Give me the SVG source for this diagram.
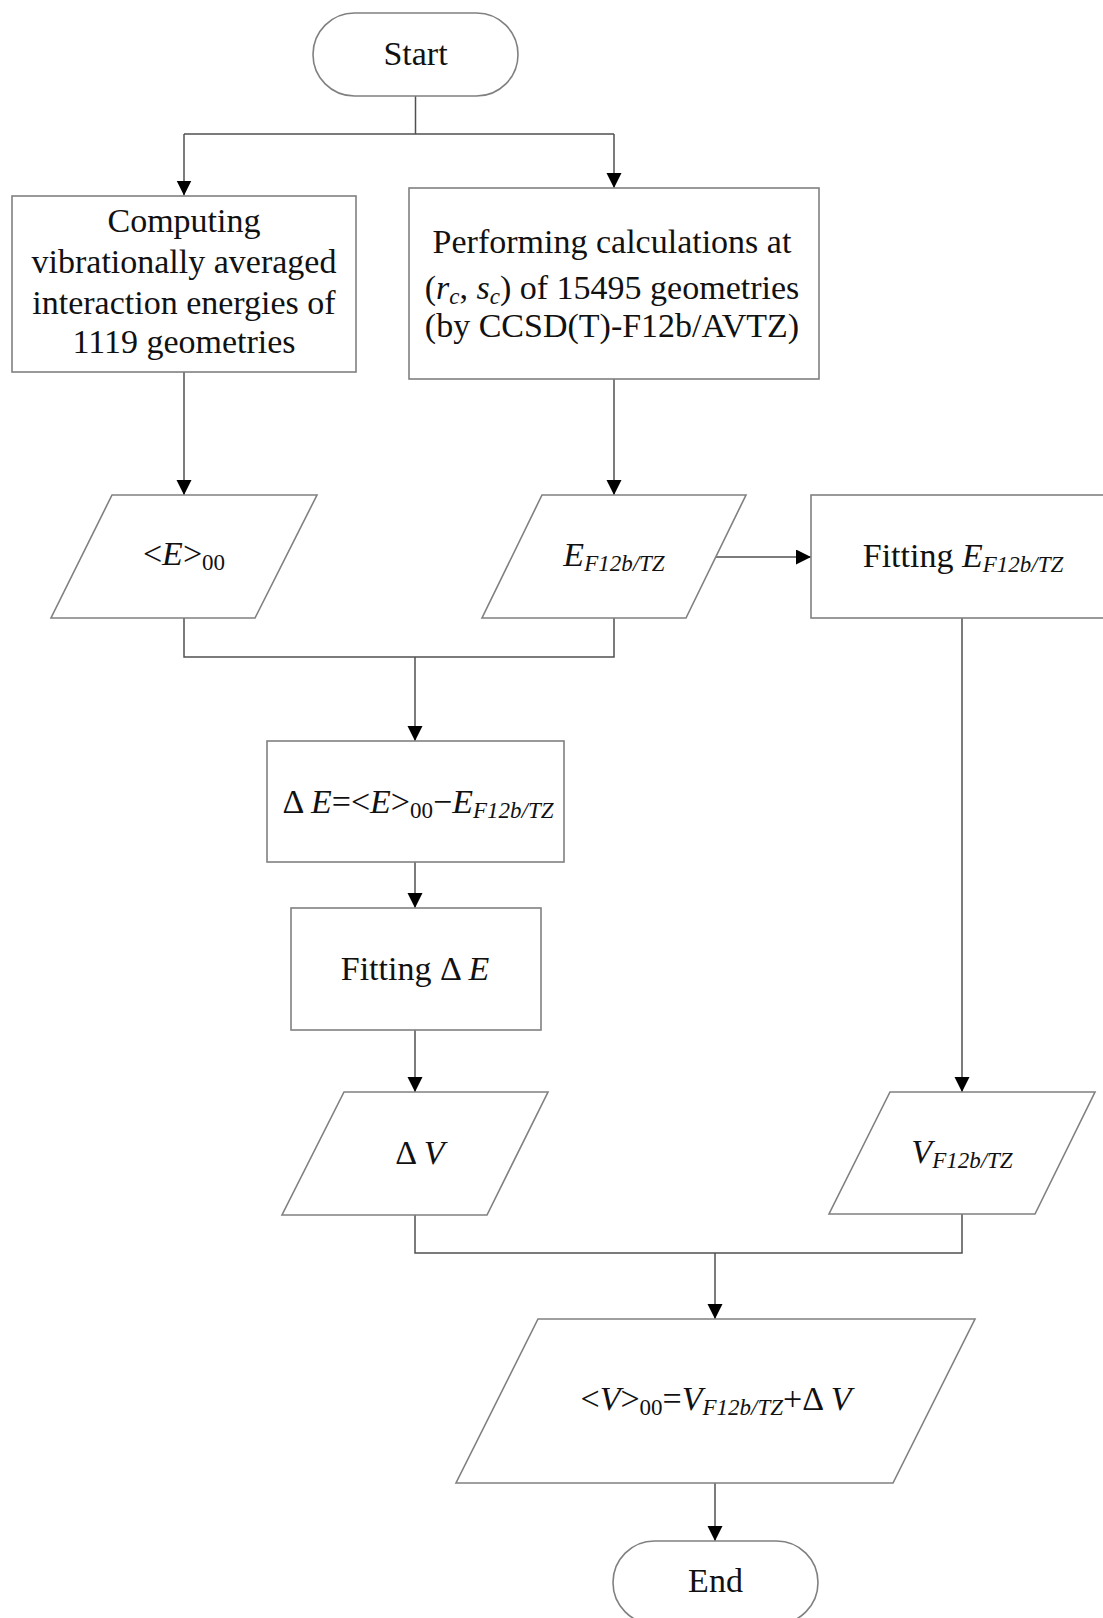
<svg xmlns="http://www.w3.org/2000/svg" width="1103" height="1618" viewBox="0 0 1103 1618">
<style>
.shape{fill:#fff;stroke:#808080;stroke-width:1.6}
.conn{fill:none;stroke:#505050;stroke-width:1.5}
.t{font-family:"Liberation Serif","Times New Roman",serif;font-size:34px;fill:#111;text-anchor:middle}
.i{font-style:italic}
.s{font-size:23px}
</style>
<defs>
<marker id="ah" markerUnits="userSpaceOnUse" markerWidth="16" markerHeight="16" refX="15" refY="7.5" orient="auto">
<path d="M0,0 L15,7.5 L0,15 Z" fill="#000"/>
</marker>
</defs>
<rect width="1103" height="1618" fill="#fff"/>

<g id="connectors">
<path class="conn" d="M415.5 96 V134 M184 134 H614"/>
<path class="conn" d="M184 134 V195.5" marker-end="url(#ah)"/>
<path class="conn" d="M614 134 V188" marker-end="url(#ah)"/>
<path class="conn" d="M184 372 V495" marker-end="url(#ah)"/>
<path class="conn" d="M614 379 V495" marker-end="url(#ah)"/>
<path class="conn" d="M716 557 H811" marker-end="url(#ah)"/>
<path class="conn" d="M184 618 V657 H614 V618"/>
<path class="conn" d="M415 657 V741" marker-end="url(#ah)"/>
<path class="conn" d="M415 862 V908" marker-end="url(#ah)"/>
<path class="conn" d="M415 1030 V1092" marker-end="url(#ah)"/>
<path class="conn" d="M962 618 V1092" marker-end="url(#ah)"/>
<path class="conn" d="M415 1215 V1253 H962 V1214"/>
<path class="conn" d="M715 1253 V1319" marker-end="url(#ah)"/>
<path class="conn" d="M715 1483 V1541" marker-end="url(#ah)"/>
</g>

<g id="start">
<rect class="shape" x="313" y="13" width="205" height="83" rx="41.5"/>
<text class="t" x="415.5" y="65">Start</text>
</g>

<g id="compute">
<rect class="shape" x="12" y="196" width="344" height="176"/>
<text class="t" x="184" y="232">Computing</text>
<text class="t" x="184" y="273">vibrationally averaged</text>
<text class="t" x="184" y="314">interaction energies of</text>
<text class="t" x="184" y="353">1119 geometries</text>
</g>

<g id="perform">
<rect class="shape" x="409" y="188" width="410" height="191"/>
<text class="t" x="612" y="253">Performing calculations at</text>
<text class="t" x="612" y="299">(<tspan class="i">r</tspan><tspan class="i s" dy="5">c</tspan><tspan dy="-5">, </tspan><tspan class="i">s</tspan><tspan class="i s" dy="5">c</tspan><tspan dy="-5">) of 15495 geometries</tspan></text>
<text class="t" x="612" y="337">(by CCSD(T)-F12b/AVTZ)</text>
</g>

<g id="e00">
<polygon class="shape" points="112,495 317,495 255,618 51,618"/>
<text class="t" x="184" y="565">&lt;<tspan class="i">E</tspan>&gt;<tspan class="s" dy="5">00</tspan></text>
</g>

<g id="ef12">
<polygon class="shape" points="542,495 746,495 686,618 482,618"/>
<text class="t" x="614" y="566"><tspan class="i">E</tspan><tspan class="i s" dy="5">F12b/TZ</tspan></text>
</g>

<g id="fitE">
<rect class="shape" x="811" y="495" width="310" height="123"/>
<text class="t" x="963" y="567">Fitting <tspan class="i">E</tspan><tspan class="i s" dy="5">F12b/TZ</tspan></text>
</g>

<g id="deltaE">
<rect class="shape" x="267" y="741" width="297" height="121"/>
<text class="t" x="418" y="813">Δ <tspan class="i">E</tspan>=&lt;<tspan class="i">E</tspan>&gt;<tspan class="s" dy="5">00</tspan><tspan dy="-5">−</tspan><tspan class="i">E</tspan><tspan class="i s" dy="5">F12b/TZ</tspan></text>
</g>

<g id="fitDE">
<rect class="shape" x="291" y="908" width="250" height="122"/>
<text class="t" x="415" y="980">Fitting Δ <tspan class="i">E</tspan></text>
</g>

<g id="deltaV">
<polygon class="shape" points="344,1092 548,1092 487,1215 282,1215"/>
<text class="t" x="420" y="1164">Δ <tspan class="i">V</tspan></text>
</g>

<g id="vf12">
<polygon class="shape" points="890,1092 1095,1092 1035,1214 829,1214"/>
<text class="t" x="962" y="1163"><tspan class="i">V</tspan><tspan class="i s" dy="5">F12b/TZ</tspan></text>
</g>

<g id="final">
<polygon class="shape" points="538,1319 975,1319 893,1483 456,1483"/>
<text class="t" x="716" y="1410">&lt;<tspan class="i">V</tspan>&gt;<tspan class="s" dy="5">00</tspan><tspan dy="-5">=</tspan><tspan class="i">V</tspan><tspan class="i s" dy="5">F12b/TZ</tspan><tspan dy="-5">+</tspan>Δ <tspan class="i">V</tspan></text>
</g>

<g id="end">
<rect class="shape" x="613" y="1541" width="205" height="83" rx="41.5"/>
<text class="t" x="715.5" y="1592">End</text>
</g>
</svg>
